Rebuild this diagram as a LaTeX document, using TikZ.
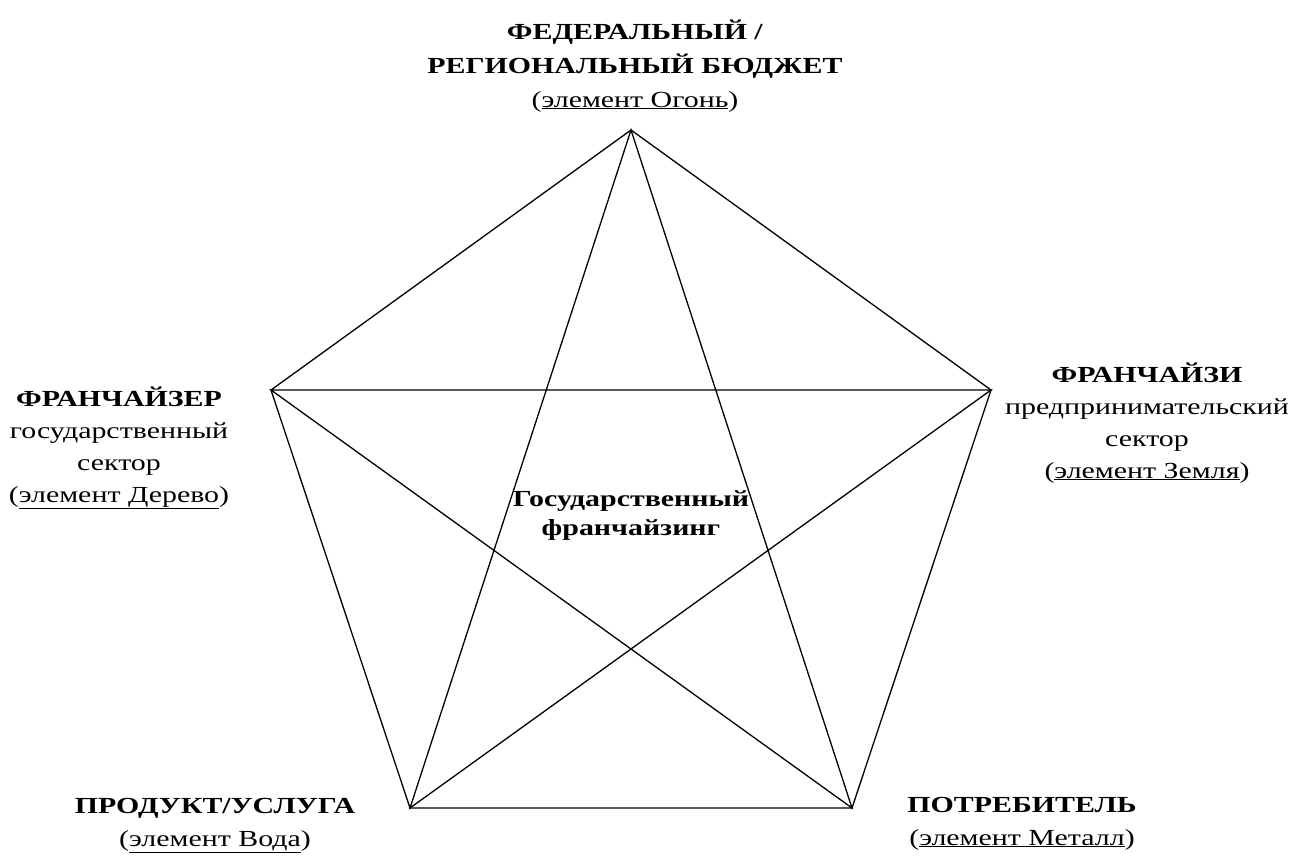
\documentclass[tikz,border=0pt]{standalone}
\usepackage{fontspec}
\setmainfont{Liberation Serif}[FakeStretch=1.3]
\begin{document}
\begin{tikzpicture}[x=1pt,y=-1pt,
  edge/.style={line width=1.3pt, line join=miter},
  lbl/.style={anchor=base, align=center, inner sep=0pt, font=\fontsize{23}{32}\selectfont},
  ]
\useasboundingbox (0,0) rectangle (1291,859);
\coordinate (T) at (631,130);
\coordinate (L) at (271,390);
\coordinate (R) at (991,390);
\coordinate (BL) at (410,808);
\coordinate (BR) at (852,808);
% pentagon
\draw[edge] (T) -- (R) -- (BR) -- (BL) -- (L) -- cycle;
% star
\draw[edge] (T) -- (BL) -- (R) -- (L) -- (BR) -- cycle;
% labels (anchor at baseline of last line)
\node[lbl, font=\fontsize{23}{34}\selectfont] (top) at (635,107)
  {\textbf{ФЕДЕРАЛЬНЫЙ /}\\ \textbf{РЕГИОНАЛЬНЫЙ БЮДЖЕТ}\\ (\underline{элемент Огонь})};
\node[lbl] (left) at (119,502)
  {\textbf{ФРАНЧАЙЗЕР}\\ государственный\\ сектор\\ (\underline{элемент Дерево})};
\node[lbl] (right) at (1147,478)
  {\textbf{ФРАНЧАЙЗИ}\\ предпринимательский\\ сектор\\ (\underline{элемент Земля})};
\node[lbl, font=\fontsize{23}{29}\selectfont] (center) at (631,535)
  {\textbf{Государственный}\\ \textbf{франчайзинг}};
\node[lbl, font=\fontsize{23}{33}\selectfont] (prod) at (215,846)
  {\textbf{ПРОДУКТ/УСЛУГА}\\ (\underline{элемент Вода})};
\node[lbl, font=\fontsize{23}{33}\selectfont] (cons) at (1022,845)
  {\textbf{ПОТРЕБИТЕЛЬ}\\ (\underline{элемент Металл})};
\end{tikzpicture}
\end{document}
